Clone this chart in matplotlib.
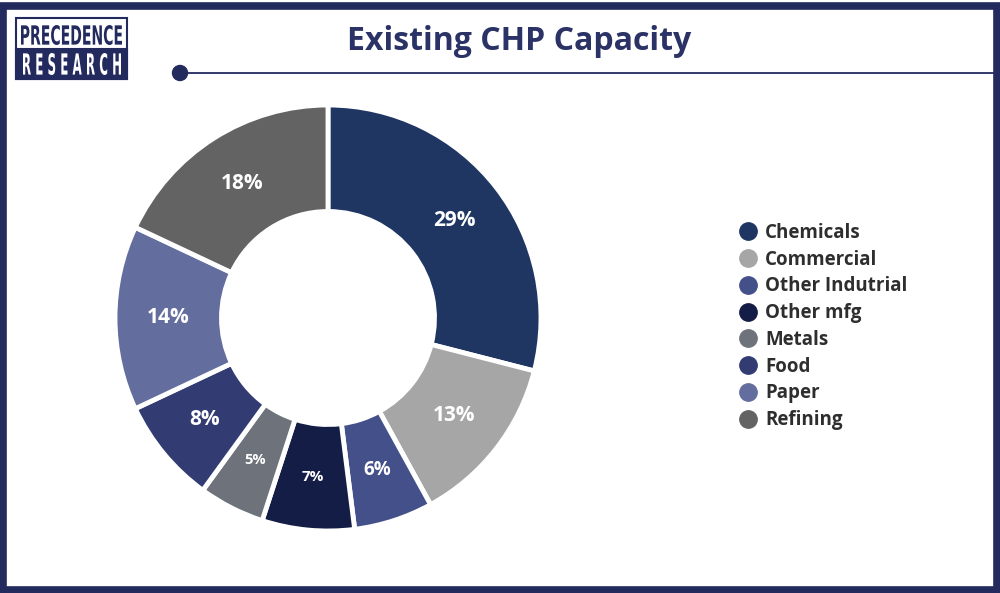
import matplotlib.pyplot as plt
from matplotlib.patches import Rectangle, Ellipse, PathPatch
from matplotlib.lines import Line2D
from matplotlib.textpath import TextPath
from matplotlib.font_manager import FontProperties
from matplotlib.transforms import Affine2D, IdentityTransform

# Data
categories = ["Chemicals", "Commercial", "Other Indutrial", "Other mfg",
              "Metals", "Food", "Paper", "Refining"]
shares = [29, 13, 6, 7, 5, 8, 14, 18]
colors = ["#1f3663", "#a6a6a6", "#43508a", "#141d45",
          "#6e737b", "#323c73", "#646e9e", "#636363"]

NAVY = "#232a5e"
FONT = ["Open Sans", "DejaVu Sans"]

W, H = 1000, 593
fig = plt.figure(figsize=(W / 100, H / 100), dpi=100)
fig.patch.set_facecolor("white")


def fx(px):
    return px / W


def fy(py):
    return 1 - py / H


def squeezed_text(s, left, top, width, height, color):
    """Draw text as a path squeezed into a pixel box (condensed logo lettering)."""
    tp = TextPath((0, 0), s, size=20, prop=FontProperties(family="DejaVu Sans", weight="bold"))
    ext = tp.get_extents()
    tr = (Affine2D().translate(-ext.x0, -ext.y0)
          .scale(width / ext.width, height / ext.height)
          .translate(left, H - top - height))
    path = tr.transform_path(tp)
    fig.add_artist(PathPatch(path, transform=IdentityTransform(), facecolor=color,
                             edgecolor="none"))


# outer frame
fig.add_artist(Rectangle((fx(3), fy(590)), fx(994), 584 / H, transform=fig.transFigure,
                         fill=False, edgecolor=NAVY, linewidth=5.5))

# logo
fig.add_artist(Rectangle((fx(16), fy(79)), fx(111), 61 / H, transform=fig.transFigure,
                         facecolor="white", edgecolor=NAVY, linewidth=1.5))
fig.add_artist(Rectangle((fx(16), fy(79)), fx(111), 30 / H, transform=fig.transFigure,
                         facecolor=NAVY, edgecolor=NAVY, linewidth=1.5))
squeezed_text("PRECEDENCE", 21, 25, 101, 20, NAVY)
squeezed_text("R E S E A R C H", 23, 53, 98, 22, "white")

# title and rule
fig.text(fx(519), fy(42), "Existing CHP Capacity", ha="center", va="center",
         color="#2b3266", fontsize=23, fontweight="bold", family=FONT)
fig.add_artist(Line2D([fx(180), fx(994)], [fy(73), fy(73)], transform=fig.transFigure,
                      color=NAVY, linewidth=1.3))
fig.add_artist(Ellipse((fx(180), fy(73)), fx(15), 15 / H, transform=fig.transFigure,
                       color=NAVY))

# donut
cx, cy, r = 328, 318, 213
side = 460
ax = fig.add_axes([fx(cx - side / 2), fy(cy + side / 2), fx(side), side / H])
lim = (side / 2) / r
wedges, _, autotexts = ax.pie(
    shares, colors=colors, startangle=90, counterclock=False, radius=1,
    autopct="%d%%", pctdistance=0.75,
    wedgeprops=dict(width=0.5, edgecolor="white", linewidth=3.5),
    textprops=dict(color="white", fontsize=15, fontweight="bold", family=FONT))
small = {5: 10.5, 7: 11, 6: 13.5}
for t, v in zip(autotexts, shares):
    if v in small:
        t.set_fontsize(small[v])
ax.set_xlim(-lim, lim)
ax.set_ylim(-lim, lim)
ax.set_aspect("equal")
ax.axis("off")

# legend
handles = [Line2D([], [], marker="o", linestyle="", markersize=12.5,
                  markerfacecolor=c, markeredgecolor=c) for c in colors]
leg = fig.legend(handles, categories, loc="upper left",
                 bbox_to_anchor=(fx(720), fy(206)), frameon=False,
                 handletextpad=0.3, labelspacing=0.36, handlelength=1.2,
                 prop=dict(family=FONT, weight="bold", size=13.5))
for t in leg.get_texts():
    t.set_color("#2e2e2e")

plt.savefig("out.png", dpi=100)
